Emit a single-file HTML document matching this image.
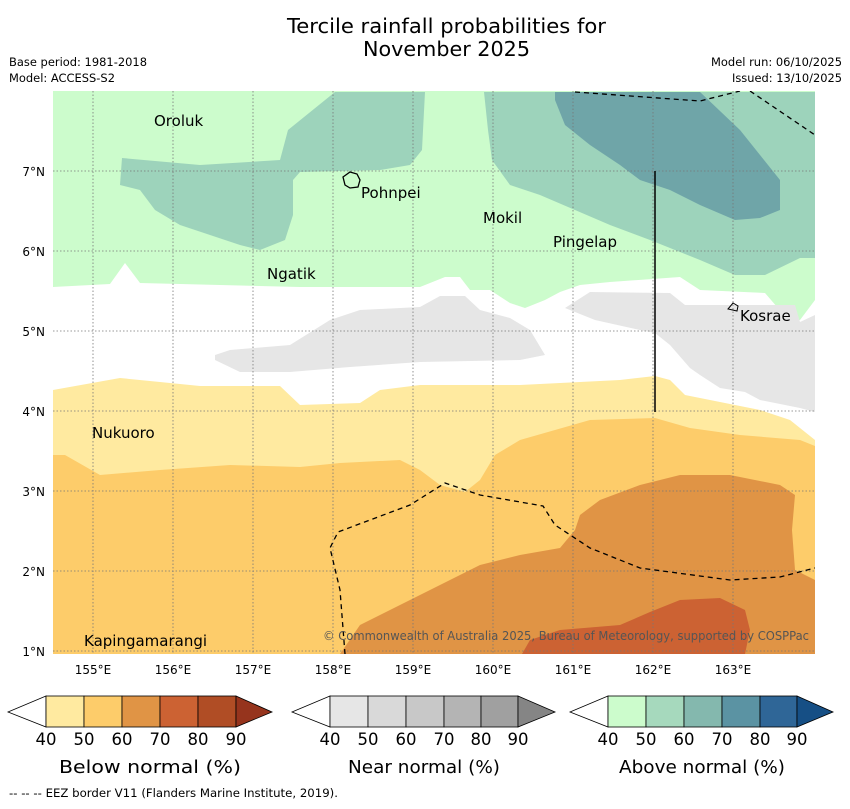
<!DOCTYPE html>
<html><head><meta charset="utf-8"><style>
body{margin:0;background:#fff;width:850px;height:804px;overflow:hidden;font-family:"Liberation Sans","DejaVu Sans",sans-serif}
svg text{font-family:"DejaVu Sans","Liberation Sans",sans-serif}
</style></head><body>
<svg width="850" height="804" viewBox="0 0 850 804" xmlns="http://www.w3.org/2000/svg">
<text x="287" y="33" font-size="20.5" textLength="319" lengthAdjust="spacingAndGlyphs">Tercile rainfall probabilities for</text>
<text x="363" y="56" font-size="20.5" textLength="167" lengthAdjust="spacingAndGlyphs">November 2025</text>
<text x="9" y="66" font-size="11.5" textLength="138" lengthAdjust="spacingAndGlyphs">Base period: 1981-2018</text>
<text x="9" y="82" font-size="11.5" textLength="106" lengthAdjust="spacingAndGlyphs">Model: ACCESS-S2</text>
<text x="711" y="66" font-size="11.5" textLength="131" lengthAdjust="spacingAndGlyphs">Model run: 06/10/2025</text>
<text x="732" y="82" font-size="11.5" textLength="110" lengthAdjust="spacingAndGlyphs">Issued: 13/10/2025</text>
<defs><clipPath id="mc"><rect x="53" y="91" width="762" height="563"/></clipPath></defs>
<g clip-path="url(#mc)">
<rect x="53" y="91" width="762" height="563" fill="#fff"/>
<polygon fill="#ccfccc" points="53,91 815,91 815,300 800,320 790,322 765,293 700,290 680,277 610,282 580,285 560,292 545,300 525,308 510,303 490,290 470,290 460,277 445,277 420,287 300,287 140,283 125,263 110,284 53,287"/>
<polygon fill="#9dd3bb" points="288,130 335,92 425,92 422,150 410,165 380,170 300,172 293,180 293,215 285,240 260,250 240,245 180,225 155,210 140,190 120,185 122,158 200,165 280,160"/>
<polygon fill="#9dd3bb" points="484,92 815,92 815,258 800,258 765,275 735,275 700,260 650,240 610,225 575,210 540,195 510,185 492,160 488,130"/>
<polygon fill="#6fa5a8" points="555,92 700,92 740,130 780,180 780,210 760,218 735,220 700,205 670,190 640,180 620,165 590,145 565,125 555,100"/>
<polygon fill="#e6e6e6" points="215,355 230,350 290,345 330,320 360,310 420,307 440,296 465,296 480,310 510,318 530,330 545,355 520,360 420,362 350,367 290,372 240,372 215,360"/>
<polygon fill="#e6e6e6" points="565,308 590,292 670,293 685,305 795,305 800,322 815,315 815,412 800,408 760,400 745,392 720,388 700,375 690,368 670,345 655,333 640,330 595,320"/>
<polygon fill="#ffeaa0" points="53,390 120,378 200,386 280,386 300,405 360,403 380,390 420,385 520,385 620,380 655,376 670,380 685,395 720,402 760,410 790,420 815,440 815,654 53,654"/>
<polygon fill="#fdcc6a" points="53,455 65,455 100,475 160,470 230,465 300,467 340,463 400,460 420,470 440,485 465,492 480,480 495,455 520,440 590,420 655,418 690,428 740,435 800,440 815,446 815,654 53,654"/>
<polygon fill="#e09445" points="340,654 360,625 400,605 440,585 480,565 520,555 560,548 575,530 580,515 600,500 640,485 680,475 730,475 780,485 795,495 792,530 795,570 815,580 815,654"/>
<polygon fill="#cc6233" points="522,654 530,640 560,630 620,625 650,612 680,600 720,598 745,610 750,630 745,654"/>
<g stroke="#777" stroke-width="0.8" stroke-dasharray="1.5,2">
<line x1="93" y1="91" x2="93" y2="654"/><line x1="173" y1="91" x2="173" y2="654"/><line x1="253" y1="91" x2="253" y2="654"/><line x1="333" y1="91" x2="333" y2="654"/><line x1="413" y1="91" x2="413" y2="654"/><line x1="493" y1="91" x2="493" y2="654"/><line x1="573" y1="91" x2="573" y2="654"/><line x1="653" y1="91" x2="653" y2="654"/><line x1="733" y1="91" x2="733" y2="654"/>
<line x1="53" y1="171" x2="815" y2="171"/><line x1="53" y1="251" x2="815" y2="251"/><line x1="53" y1="331" x2="815" y2="331"/><line x1="53" y1="411" x2="815" y2="411"/><line x1="53" y1="491" x2="815" y2="491"/><line x1="53" y1="571" x2="815" y2="571"/><line x1="53" y1="651" x2="815" y2="651"/>
</g>
<g fill="none" stroke="#000" stroke-width="1.3" stroke-dasharray="5,4">
<polyline points="575,92 700,101 740,91"/>
<polyline points="750,91 815,135"/>
<polyline points="345,654 340,590 330,548 338,532 370,520 410,505 445,483 480,495 543,506 555,525 590,548 640,568 730,580 780,577 815,568"/>
</g>
<line x1="655" y1="171" x2="655" y2="412" stroke="#000" stroke-width="1.5"/>
<path d="M343,177 L350,172 L357,174 L360,180 L358,187 L350,188 L345,185 Z" fill="none" stroke="#000" stroke-width="1.3"/>
<path d="M728,309 L733,303 L738,306 L737,311 Z" fill="none" stroke="#000" stroke-width="1"/>
<g font-size="15" fill="#000">
<text x="154" y="126">Oroluk</text><text x="361" y="198">Pohnpei</text><text x="483" y="223">Mokil</text>
<text x="553" y="247">Pingelap</text><text x="267" y="279">Ngatik</text><text x="740" y="321">Kosrae</text>
<text x="92" y="438">Nukuoro</text><text x="84" y="646">Kapingamarangi</text>
</g>
<text x="323" y="640" font-size="12" fill="#555" textLength="486" lengthAdjust="spacingAndGlyphs">© Commonwealth of Australia 2025, Bureau of Meteorology, supported by COSPPac</text>
</g>
<g font-size="12" text-anchor="end">
<text x="45" y="176">7°N</text><text x="45" y="256">6°N</text><text x="45" y="336">5°N</text><text x="45" y="416">4°N</text><text x="45" y="496">3°N</text><text x="45" y="576">2°N</text><text x="45" y="656">1°N</text>
</g>
<g font-size="12" text-anchor="middle">
<text x="93" y="674">155°E</text><text x="173" y="674">156°E</text><text x="253" y="674">157°E</text><text x="333" y="674">158°E</text><text x="413" y="674">159°E</text><text x="493" y="674">160°E</text><text x="573" y="674">161°E</text><text x="653" y="674">162°E</text><text x="733" y="674">163°E</text>
</g>
<g stroke="#000" stroke-width="0.8">
<polygon points="46,696 8,712 46,727" fill="#fff"/>
<rect x="46" y="696" width="38" height="31" fill="#ffeaa0"/><rect x="84" y="696" width="38" height="31" fill="#fdcc6a"/><rect x="122" y="696" width="38" height="31" fill="#e09445"/><rect x="160" y="696" width="38" height="31" fill="#cc6233"/><rect x="198" y="696" width="38" height="31" fill="#b04d25"/>
<polygon points="236,696 272,712 236,727" fill="#96341d"/>
</g>
<g stroke="#000" stroke-width="0.8">
<polygon points="330,696 292,712 330,727" fill="#fff"/>
<rect x="330" y="696" width="38" height="31" fill="#e6e6e6"/><rect x="368" y="696" width="38" height="31" fill="#d9d9d9"/><rect x="406" y="696" width="38" height="31" fill="#c8c8c8"/><rect x="444" y="696" width="37" height="31" fill="#b4b4b4"/><rect x="481" y="696" width="37" height="31" fill="#a0a0a0"/>
<polygon points="518,696 555,712 518,727" fill="#858585"/>
</g>
<g stroke="#000" stroke-width="0.8">
<polygon points="608,696 570,712 608,727" fill="#fff"/>
<rect x="608" y="696" width="38" height="31" fill="#ccfccc"/><rect x="646" y="696" width="38" height="31" fill="#a6d9bd"/><rect x="684" y="696" width="38" height="31" fill="#84b8ae"/><rect x="722" y="696" width="38" height="31" fill="#5b93a3"/><rect x="760" y="696" width="37" height="31" fill="#2f6697"/>
<polygon points="797,696 833,712 797,727" fill="#164f85"/>
</g>
<g font-size="16.5" text-anchor="middle">
<text x="46" y="745">40</text><text x="84" y="745">50</text><text x="122" y="745">60</text><text x="160" y="745">70</text><text x="198" y="745">80</text><text x="236" y="745">90</text>
<text x="330" y="745">40</text><text x="368" y="745">50</text><text x="406" y="745">60</text><text x="444" y="745">70</text><text x="481" y="745">80</text><text x="518" y="745">90</text>
<text x="608" y="745">40</text><text x="646" y="745">50</text><text x="684" y="745">60</text><text x="722" y="745">70</text><text x="760" y="745">80</text><text x="797" y="745">90</text>
</g>
<text x="59" y="773" font-size="18" textLength="182" lengthAdjust="spacingAndGlyphs">Below normal (%)</text>
<text x="348" y="773" font-size="18" textLength="152" lengthAdjust="spacingAndGlyphs">Near normal (%)</text>
<text x="619" y="773" font-size="18" textLength="166" lengthAdjust="spacingAndGlyphs">Above normal (%)</text>
<text x="9" y="797" font-size="11.5" textLength="329" lengthAdjust="spacingAndGlyphs">--  --  -- EEZ border V11 (Flanders Marine Institute, 2019).</text>
</svg>
</body></html>
